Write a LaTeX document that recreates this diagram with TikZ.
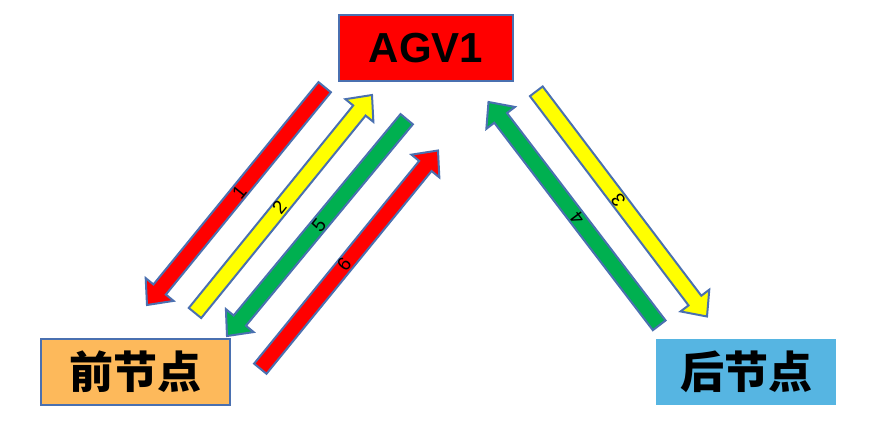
\documentclass[tikz,border=0pt]{standalone}
\usepackage{fontspec}
\setmainfont{Liberation Sans}
\newfontfamily\cjk{Noto Sans CJK SC}
\usetikzlibrary{calc}
\definecolor{edgeblue}{HTML}{4A70B0}
\definecolor{arred}{HTML}{FF0000}
\definecolor{aryellow}{HTML}{FFFF00}
\definecolor{argreen}{HTML}{00B050}
\definecolor{boxorange}{HTML}{FDB95B}
\definecolor{boxsky}{HTML}{56B5E2}
\newcommand{\blkarrow}[2]{%
  \coordinate (#1b) at ($(#1h)!20pt!(#1t)$);
  \path[arrowshape, fill=#2]
    ($(#1t)!8pt!90:(#1h)$) -- ($(#1b)!8pt!90:(#1h)$) -- ($(#1b)!18pt!90:(#1h)$) --
    (#1h) -- ($(#1b)!18pt!-90:(#1h)$) -- ($(#1b)!8pt!-90:(#1h)$) --
    ($(#1t)!8pt!-90:(#1h)$) -- cycle;
}
\begin{document}
\begin{tikzpicture}[x=1pt,y=-1pt,
  arrowshape/.style={draw=edgeblue, line width=2pt, line join=miter},
  numlabel/.style={font=\fontsize{19}{19}\selectfont, inner sep=0pt},
  boxstyle/.style={minimum width=#1, minimum height=66pt, inner sep=0pt, font=\cjk\bfseries\fontsize{44}{44}\selectfont}]
\useasboundingbox (0,0) rectangle (891,428);
% boxes
\node[draw=edgeblue, line width=2pt, fill=arred, minimum width=174pt, minimum height=66pt, inner sep=0pt,
      font=\bfseries\fontsize{42}{42}\selectfont] (agv) at (426,48) {AGV1};
\node[boxstyle=189pt, draw=edgeblue, line width=2pt, fill=boxorange] (front) at (135.5,372) {前节点};
\node[boxstyle=180pt, fill=boxsky] (back) at (746,372) {后节点};
% arrow end points
\coordinate (aAt) at (324.7,87.2);  \coordinate (aAh) at (147,305);
\coordinate (aBt) at (195,313);     \coordinate (aBh) at (372,95);
\coordinate (aEt) at (406.7,119.2); \coordinate (aEh) at (227,336);
\coordinate (aFt) at (260.3,368.7); \coordinate (aFh) at (438,150.5);
\coordinate (aDt) at (659.2,325.3); \coordinate (aDh) at (488.5,102);
\coordinate (aCt) at (536.3,91.3);  \coordinate (aCh) at (707,316.5);
\blkarrow{aA}{arred}
\blkarrow{aB}{aryellow}
\blkarrow{aE}{argreen}
\blkarrow{aF}{arred}
\blkarrow{aD}{argreen}
\blkarrow{aC}{aryellow}
% labels
\node[numlabel, rotate=51] (l1) at (239.3,192.7) {1};
\node[numlabel, rotate=51] (l2) at (279.3,207) {2};
\node[numlabel, rotate=51] (l5) at (319,225) {5};
\node[numlabel, rotate=51] (l6) at (344,264) {6};
\node[numlabel, rotate=127] (l4) at (577.3,218.3) {4};
\node[numlabel, rotate=127] (l3) at (618.3,200) {3};
\end{tikzpicture}
\end{document}
